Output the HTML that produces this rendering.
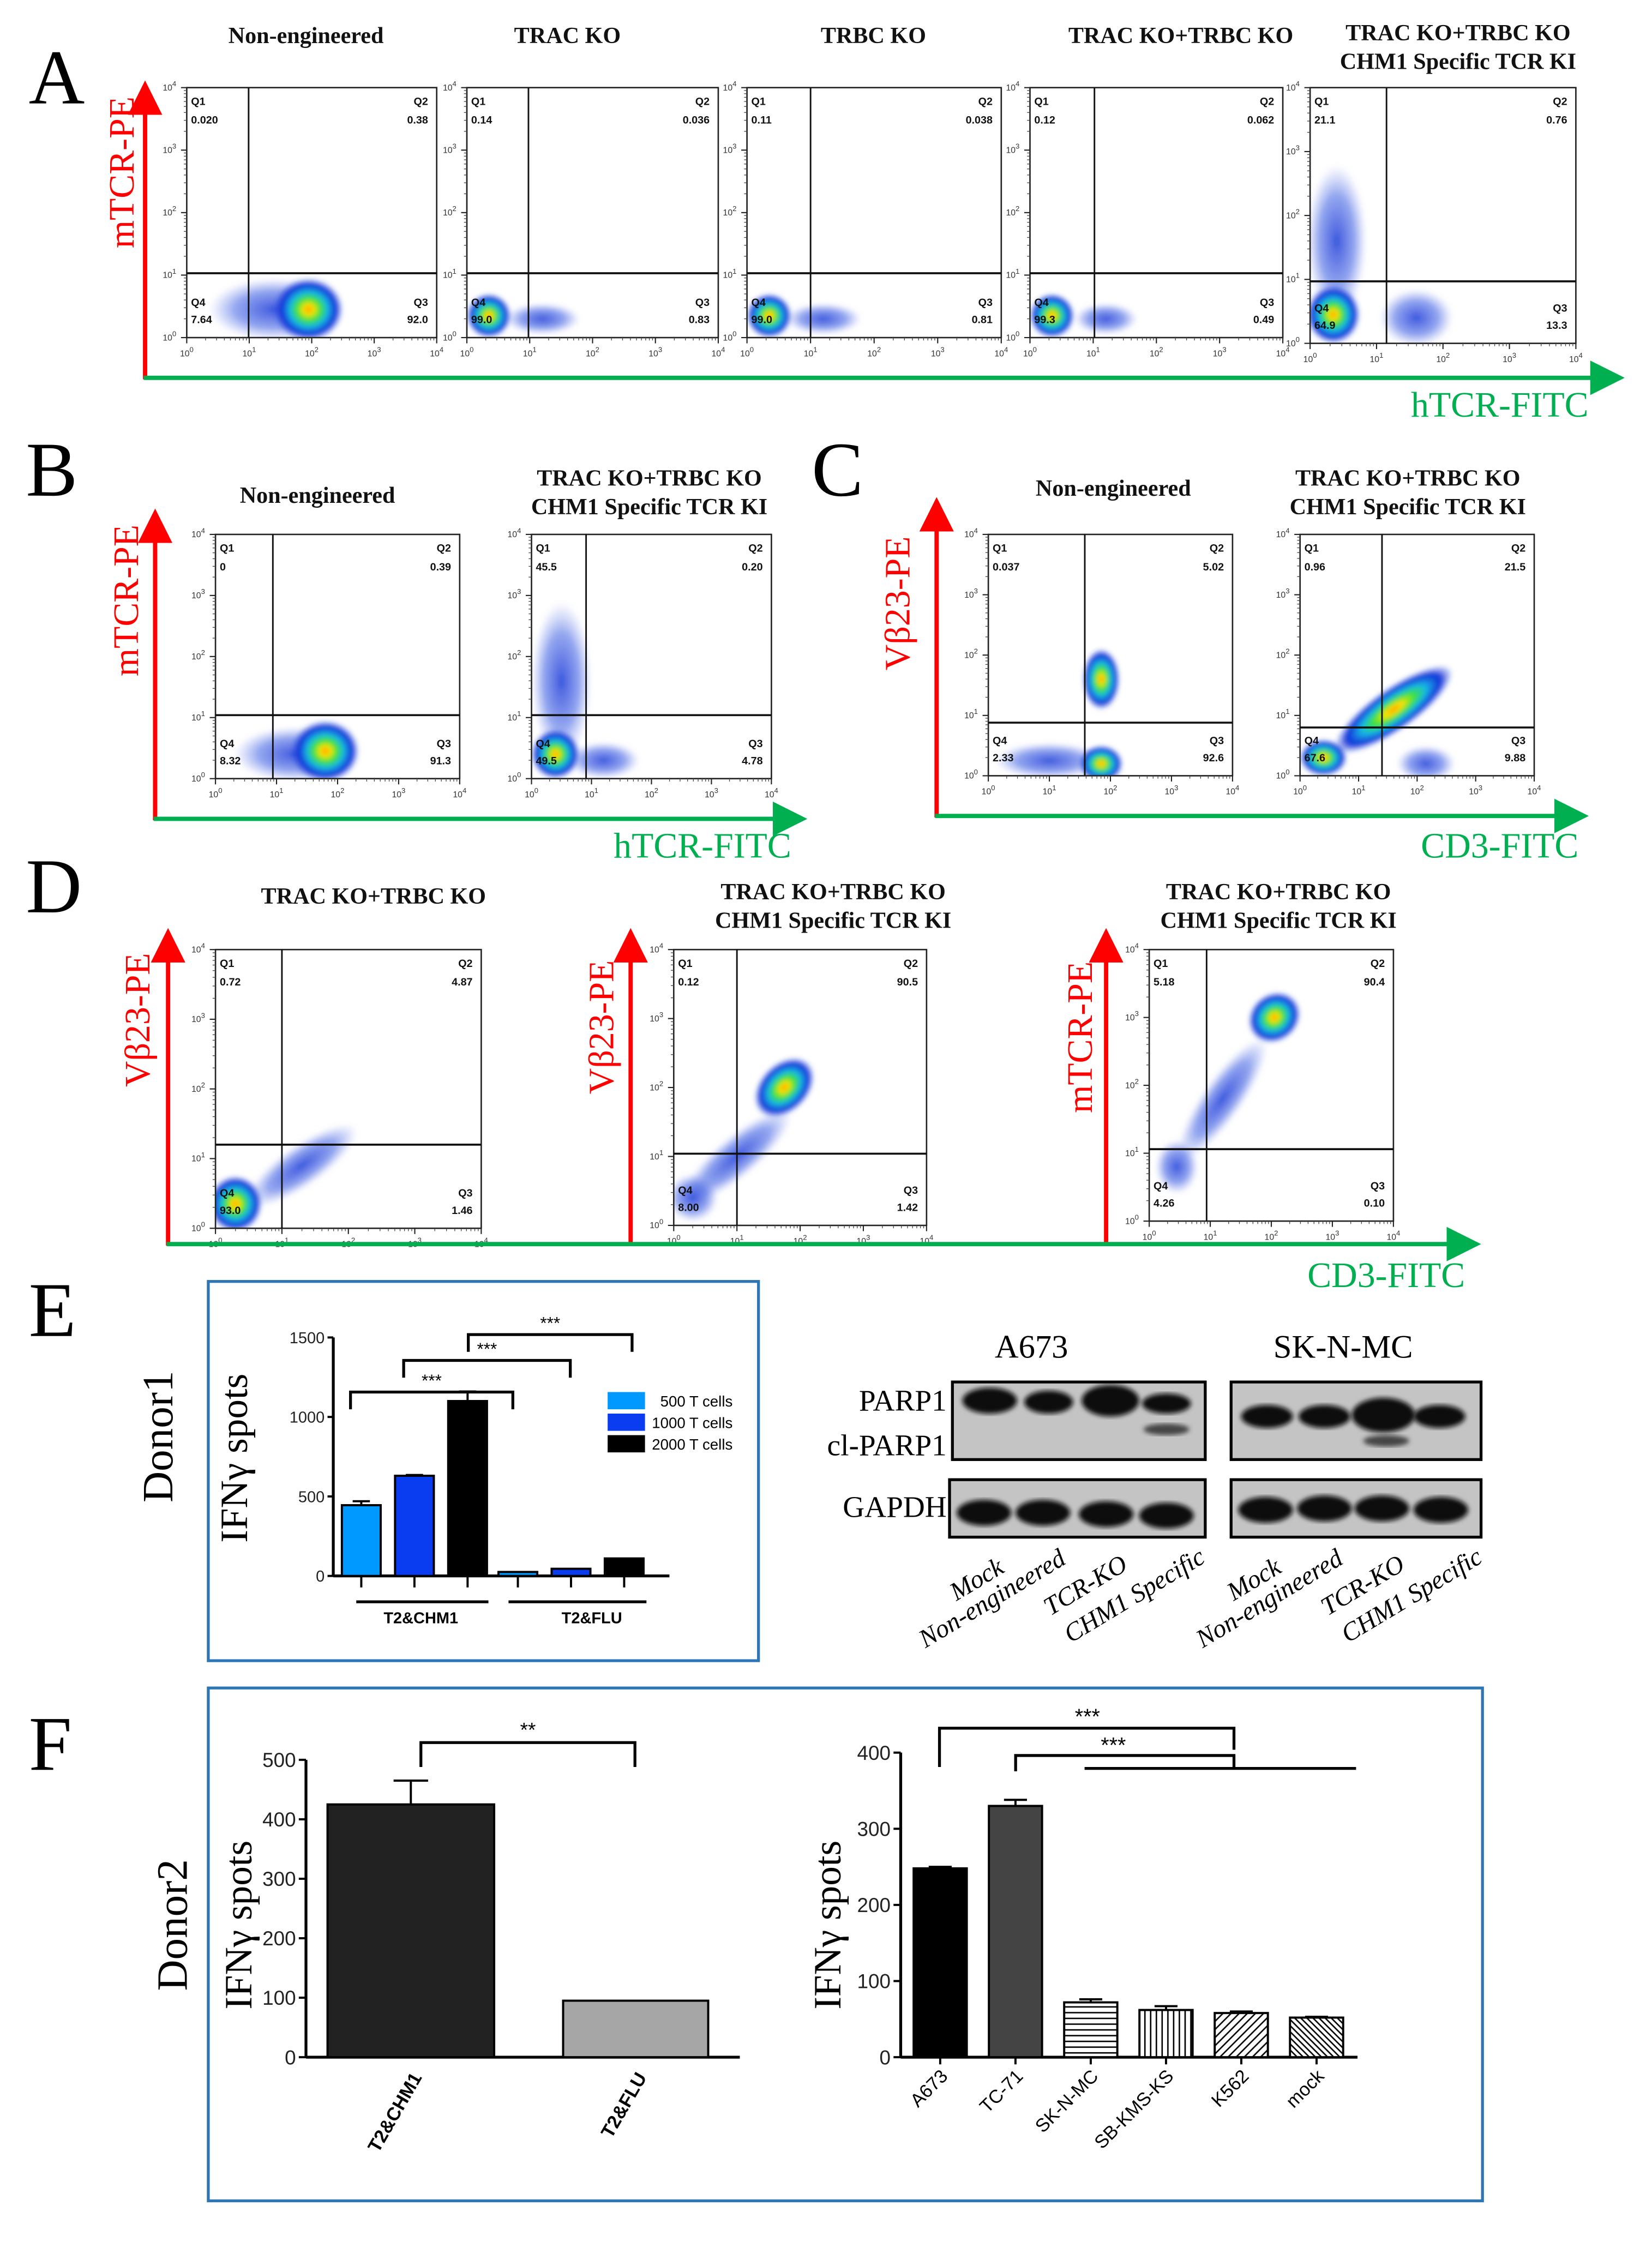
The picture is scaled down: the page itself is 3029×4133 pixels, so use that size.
<!DOCTYPE html>
<html><head><meta charset="utf-8">
<style>
html,body{margin:0;padding:0;background:#fff;}
svg{display:block;}
.serif{font-family:"Liberation Serif",serif;}
.sans{font-family:"Liberation Sans",sans-serif;}
</style></head>
<body>
<svg id="fig" xmlns="http://www.w3.org/2000/svg" width="3029" height="4133" viewBox="0 0 1150 1569" preserveAspectRatio="none">
<defs>
<radialGradient id="dens" cx="50%" cy="50%" r="50%">
<stop offset="0" stop-color="#ff8a00"/>
<stop offset="0.15" stop-color="#ffe400"/>
<stop offset="0.35" stop-color="#3ce23c"/>
<stop offset="0.55" stop-color="#16b9e6"/>
<stop offset="0.78" stop-color="#1030d8"/>
<stop offset="1" stop-color="#1030d8" stop-opacity="0"/>
</radialGradient>
<radialGradient id="sparse" cx="50%" cy="50%" r="50%">
<stop offset="0" stop-color="#1a3ad8" stop-opacity="0.85"/>
<stop offset="0.6" stop-color="#2a4ee0" stop-opacity="0.5"/>
<stop offset="1" stop-color="#6d80e8" stop-opacity="0"/>
</radialGradient>
<marker id="arR" markerWidth="8" markerHeight="8" refX="4" refY="4" orient="auto"><path d="M0,0 L8,4 L0,8 z" fill="#ff0000"/></marker>
<marker id="arG" markerWidth="8" markerHeight="8" refX="4" refY="4" orient="auto"><path d="M0,0 L8,4 L0,8 z" fill="#00b050"/></marker>
<pattern id="hH" width="4" height="4" patternUnits="userSpaceOnUse"><rect width="4" height="4" fill="#fff"/><line x1="0" y1="1" x2="4" y2="1" stroke="#000" stroke-width="1"/></pattern>
<pattern id="hV" width="4" height="4" patternUnits="userSpaceOnUse"><rect width="4" height="4" fill="#fff"/><line x1="1" y1="0" x2="1" y2="4" stroke="#000" stroke-width="1"/></pattern>
<pattern id="hD" width="4" height="4" patternUnits="userSpaceOnUse" patternTransform="rotate(45)"><rect width="4" height="4" fill="#fff"/><line x1="1" y1="0" x2="1" y2="4" stroke="#000" stroke-width="1"/></pattern>
<pattern id="hD2" width="3" height="3" patternUnits="userSpaceOnUse" patternTransform="rotate(-45)"><rect width="3" height="3" fill="#fff"/><line x1="1" y1="0" x2="1" y2="3" stroke="#000" stroke-width="1"/></pattern>
<filter id="blur"><feGaussianBlur stdDeviation="1.6"/></filter>
</defs>
<g id="root"></g>
</svg>
<script>
// ===== Flow cytometry data (log decades 0-4) =====
const flowTitles=[["Non-engineered"],["TRAC KO"],["TRBC KO"],["TRAC KO+TRBC KO"],["TRAC KO+TRBC KO","CHM1 Specific TCR KI"],
 ["Non-engineered"],["TRAC KO+TRBC KO","CHM1 Specific TCR KI"],["Non-engineered"],["TRAC KO+TRBC KO","CHM1 Specific TCR KI"],
 ["TRAC KO+TRBC KO"],["TRAC KO+TRBC KO","CHM1 Specific TCR KI"],["TRAC KO+TRBC KO","CHM1 Specific TCR KI"]];
const q1Values=["0.020","0.14","0.11","0.12","21.1","0","45.5","0.037","0.96","0.72","0.12","5.18"];
const q2Values=["0.38","0.036","0.038","0.062","0.76","0.39","0.20","5.02","21.5","4.87","90.5","90.4"];
const q3Values=["92.0","0.83","0.81","0.49","13.3","91.3","4.78","92.6","9.88","1.46","1.42","0.10"];
const q4Values=["7.64","99.0","99.0","99.3","64.9","8.32","49.5","2.33","67.6","93.0","8.00","4.26"];
const gateX=[0.99,0.98,1.0,1.02,1.15,0.94,0.91,1.58,1.4,1.0,1.0,0.94];
const gateY=[1.03,1.03,1.03,1.03,0.97,1.04,1.04,0.88,0.8,1.2,1.04,1.06];
// blobs: [plotIndex, cx, cy, rx, ry, rotation, type(1 dense / 0 sparse)]
const blobs=[
 [0,1.4,0.45,1.05,0.5,0,0],[0,1.95,0.45,0.55,0.5,0,1],
 [1,0.35,0.35,0.35,0.35,0,1],[1,1.2,0.3,0.6,0.25,0,0],
 [2,0.35,0.35,0.35,0.35,0,1],[2,1.2,0.3,0.6,0.25,0,0],
 [3,0.35,0.35,0.35,0.35,0,1],[3,1.2,0.3,0.5,0.25,0,0],
 [4,0.35,0.45,0.4,0.45,0,1],[4,0.4,1.6,0.45,1.2,0,0],[4,1.6,0.4,0.55,0.45,0,0],
 [5,1.8,0.45,0.55,0.5,0,1],[5,1.3,0.4,1.0,0.45,0,0],
 [6,0.4,0.4,0.4,0.4,0,1],[6,0.5,1.6,0.5,1.3,0,0],[6,1.2,0.3,0.6,0.3,0,0],
 [7,1.85,1.6,0.3,0.5,0,1],[7,1.85,0.2,0.35,0.3,0,1],[7,1.0,0.25,0.9,0.3,0,0],
 [8,0.4,0.3,0.4,0.3,0,1],[8,1.6,1.1,1.2,0.35,-35,1],[8,2.15,0.2,0.5,0.3,0,0],
 [9,0.3,0.35,0.4,0.4,0,1],[9,1.3,0.9,1.0,0.3,-35,0],
 [10,1.75,2.0,0.55,0.35,-45,1],[10,1.0,1.0,1.1,0.3,-40,0],[10,0.3,0.4,0.4,0.35,0,0],
 [11,2.05,3.0,0.45,0.35,-40,1],[11,1.2,1.8,1.2,0.3,-55,0],[11,0.45,0.8,0.35,0.4,0,0]];
// plot geometry (layout, not data): x0,y0,x1,y1
const plotBoxes=[[130,61,304,235],[325,61,500,235],[520,61,697,235],[717,61,893,235],[912,61,1097,239],
 [150,372,320,542],[370,372,537,542],[688,372,858,540],[905,372,1068,540],
 [150,661,335,855],[469,661,645,853],[800,661,970,850]];
const titlePos=[[213,30],[395,30],[608,30],[822,30],[1015,28],[221,350],[452,338],[775,345],[980,338],[260,629],[580,626],[890,626]];
const decadeLabels=["0","1","2","3","4"];

// ===== Bar chart E =====
const eGroups=["T2&CHM1","T2&FLU"];
const eSeries=["500 T cells","1000 T cells","2000 T cells"];
const eChm1=[445,630,1100];
const eChm1Err=[25,5,60];
const eFlu=[25,45,110];
const eTicks=[0,500,1000,1500];
// ===== Bar chart F left =====
const fLCats=["T2&CHM1","T2&FLU"];
const fLVals=[425,95];
const fLErr=[40,0];
const fLTicks=[0,100,200,300,400,500];
// ===== Bar chart F right =====
const fRCats=["A673","TC-71","SK-N-MC","SB-KMS-KS","K562","mock"];
const fRVals=[248,330,72,62,58,52];
const fRErr=[2,8,4,5,2,1];
const fRTicks=[0,100,200,300,400];

const NS="http://www.w3.org/2000/svg";
const root=document.getElementById('root');
function mk(tag,attrs,parent,text){const e=document.createElementNS(NS,tag);for(const k in attrs)e.setAttribute(k,attrs[k]);if(text!==undefined)e.textContent=text;(parent||root).appendChild(e);return e;}

// ---- flow plots
plotBoxes.forEach((b,i)=>{
 const g=mk('g',{});
 
 
 const [x0,y0,x1,y1]=b;const w=x1-x0,h=y1-y0;
 const sx=v=>x0+v/4*w, sy=v=>y1-v/4*h;
 const clip=mk('clipPath',{id:'c'+i},g);mk('rect',{x:x0,y:y0,width:w,height:h},clip);
 const dg=mk('g',{'clip-path':'url(#c'+i+')'},g);
 blobs.filter(bl=>bl[0]===i).sort((a,c)=>a[6]-c[6]).forEach(bl=>{
  const e=mk('ellipse',{cx:sx(bl[1]),cy:sy(bl[2]),rx:bl[3]/4*w,ry:bl[4]/4*h,fill:bl[6]?'url(#dens)':'url(#sparse)',transform:`rotate(${bl[5]} ${sx(bl[1])} ${sy(bl[2])})`,filter:'url(#blur)'},dg);
  
  
 });
 const fr=mk('rect',{x:x0,y:y0,width:w,height:h,fill:'none',stroke:'#222','stroke-width':1},g);
 
 
 mk('line',{x1:sx(gateX[i]),x2:sx(gateX[i]),y1:y0,y2:y1,stroke:'#111','stroke-width':1.1},g);
 mk('line',{x1:x0,x2:x1,y1:sy(gateY[i]),y2:sy(gateY[i]),stroke:'#111','stroke-width':1.4},g);
 const fs=7.5;
 const t=(x,y,s,a)=>mk('text',{x:x,y:y,'font-size':fs,'font-weight':'bold','text-anchor':a,class:'sans',fill:'#111'},g,s);
 t(x0+3,y0+12,'Q1','start');t(x0+3,y0+25,q1Values[i],'start');
 t(x1-6,y0+12,'Q2','end');t(x1-6,y0+25,q2Values[i],'end');
 t(x0+3,y1-22,'Q4','start');t(x0+3,y1-10,q4Values[i],'start');
 t(x1-6,y1-22,'Q3','end');t(x1-6,y1-10,q3Values[i],'end');
 for(let d=0;d<=4;d++){
  mk('line',{x1:sx(d),x2:sx(d),y1:y1,y2:y1+4,stroke:'#222','stroke-width':0.8},g);
  mk('line',{x1:x0-4,x2:x0,y1:sy(d),y2:sy(d),stroke:'#222','stroke-width':0.8},g);
  const tx=mk('text',{x:sx(d),y:y1+13,'font-size':6,'text-anchor':'middle',class:'sans',fill:'#333'},g,'10');
  mk('tspan',{dy:-3,'font-size':5},tx,decadeLabels[d]);
  const ty=mk('text',{x:x0-12,y:sy(d)+2,'font-size':6,'text-anchor':'middle',class:'sans',fill:'#333'},g,'10');
  mk('tspan',{dy:-3,'font-size':5},ty,decadeLabels[d]);
  if(d<4)for(let m=2;m<10;m++){const v=d+Math.log10(m);
   mk('line',{x1:sx(v),x2:sx(v),y1:y1,y2:y1+2,stroke:'#444','stroke-width':0.5},g);
   mk('line',{x1:x0-2,x2:x0,y1:sy(v),y2:sy(v),stroke:'#444','stroke-width':0.5},g);}
 }
 const tp=titlePos[i];
 flowTitles[i].forEach((s,k)=>{const tt=mk('text',{x:tp[0],y:tp[1]+k*20,'font-size':16,'font-weight':'bold','text-anchor':'middle',class:'serif',fill:'#111'},g,s);
  
  });
});

// ---- axis arrows & labels
function arrowV(x,y0,y1,name){const l=mk('line',{x1:x,x2:x,y1:y0,y2:y1+6,stroke:'#ff0000','stroke-width':3,'marker-end':'url(#arR)'});
 
 }
function arrowH(y,x0,x1,name){const l=mk('line',{x1:x0,x2:x1-6,y1:y,y2:y,stroke:'#00b050','stroke-width':3,'marker-end':'url(#arG)'});
 
 }
arrowV(101,264,62,'a-y-arrow');arrowH(263,100,1125,'a-x-arrow');
arrowV(108,571,360,'b-y-arrow');arrowH(570,107,556,'b-x-arrow');
arrowV(652,569,352,'c-y-arrow');arrowH(568,651,1100,'c-x-arrow');
arrowV(117,867,652,'d1-y-arrow');arrowV(439,867,652,'d2-y-arrow');arrowV(770,867,652,'d3-y-arrow');arrowH(866,116,1025,'d-x-arrow');
function vlab(x,y,s,name){const t=mk('text',{x:x,y:y,'font-size':25,'text-anchor':'middle',class:'serif',fill:'#ff0000',transform:`rotate(-90 ${x} ${y})`},root,s);
 
 }
function hlab(x,y,s,name){const t=mk('text',{x:x,y:y,'font-size':25,'text-anchor':'middle',class:'serif',fill:'#00b050'},root,s);
 
 }
vlab(93,120,'mTCR-PE','a-y-title');hlab(1044,290,'hTCR-FITC','a-x-title');
vlab(96,418,'mTCR-PE','b-y-title');hlab(489,597,'hTCR-FITC','b-x-title');
vlab(633,420,'Vβ23-PE','c-y-title');hlab(1044,597,'CD3-FITC','c-x-title');
vlab(104,710,'Vβ23-PE','d1-y-title');vlab(427,715,'Vβ23-PE','d2-y-title');vlab(760,722,'mTCR-PE','d3-y-title');hlab(965,896,'CD3-FITC','d-x-title');
[['A',20,72],['B',18,345],['C',565,345],['D',18,635],['E',20,930],['F',20,1232]].forEach(p=>{
 const t=mk('text',{x:p[1],y:p[2],'font-size':54,class:'serif',fill:'#000'},root,p[0]);
 
 });

// ---- Panel E boxes
const eb=mk('rect',{x:145,y:892,width:383,height:264,fill:'none',stroke:'#2e75b6','stroke-width':2});


const fb=mk('rect',{x:145,y:1175,width:887,height:357,fill:'none',stroke:'#2e75b6','stroke-width':2});


const d1=mk('text',{x:120,y:1000,'font-size':30,'text-anchor':'middle',class:'serif',transform:'rotate(-90 120 1000)'},root,'Donor1');


const d2=mk('text',{x:130,y:1340,'font-size':30,'text-anchor':'middle',class:'serif',transform:'rotate(-90 130 1340)'},root,'Donor2');



function bracket(g,xa,xb,y,drop,label,fs){mk('path',{d:`M${xa},${y+drop} V${y} H${xb} V${y+drop}`,fill:'none',stroke:'#000','stroke-width':2},g);
 mk('text',{x:(xa+xb)/2,y:y-4,'font-size':fs,'text-anchor':'middle',class:'sans'},g,label);}

// E bar chart
(function(){
 const g=mk('g',{});
 
 
 const ax=232,y0=1097,ytop=931,ymax=1500;
 const sy=v=>y0-v/ymax*(y0-ytop);
 mk('line',{x1:ax,x2:ax,y1:ytop,y2:y0,stroke:'#000','stroke-width':2},g);
 mk('line',{x1:ax,x2:466,y1:y0,y2:y0,stroke:'#000','stroke-width':2},g);
 eTicks.forEach(t=>{mk('line',{x1:ax-4,x2:ax,y1:sy(t),y2:sy(t),stroke:'#000','stroke-width':1.5},g);
  mk('text',{x:ax-6,y:sy(t)+4,'font-size':11,'text-anchor':'end',class:'sans',fill:'#222'},g,String(t));});
 const colors=['#0099ff','#0a3cf0','#000000'];
 const bw=27,step=37,start=238;
 const all=[eChm1,eFlu];
 all.forEach((arr,gi)=>{arr.forEach((v,si)=>{
  const x=start+(gi*3+si)*step - (gi? 2:0);
  const r=mk('rect',{x:x,y:sy(v),width:bw,height:y0-sy(v),fill:colors[si],stroke:'#000','stroke-width':1.5},g);
  
  
  mk('line',{x1:x+bw/2,x2:x+bw/2,y1:y0,y2:y0+8,stroke:'#000','stroke-width':1.5},g);
  if(gi===0){const e=eChm1Err[si];mk('line',{x1:x+bw/2,x2:x+bw/2,y1:sy(v),y2:sy(v+e),stroke:'#000','stroke-width':1.5},g);
   mk('line',{x1:x+bw/2-6,x2:x+bw/2+6,y1:sy(v+e),y2:sy(v+e),stroke:'#000','stroke-width':1.5},g);}
 });});
 mk('line',{x1:248,x2:340,y1:1115,y2:1115,stroke:'#000','stroke-width':2},g);
 mk('line',{x1:354,x2:450,y1:1115,y2:1115,stroke:'#000','stroke-width':2},g);
 mk('text',{x:293,y:1130,'font-size':11,'font-weight':'bold','text-anchor':'middle',class:'sans'},g,eGroups[0]);
 mk('text',{x:412,y:1130,'font-size':11,'font-weight':'bold','text-anchor':'middle',class:'sans'},g,eGroups[1]);
 bracket(g,244,357,969,12,'***',12);
 bracket(g,281,397,947,12,'***',12);
 bracket(g,326,440,929,12,'***',12);
 eSeries.forEach((s,i)=>{const ly=969+i*15;
  const lr=mk('rect',{x:423,y:ly,width:26,height:12,fill:colors[i]},g);
  
  
  mk('text',{x:510,y:ly+10,'font-size':10.5,'text-anchor':'end',class:'sans'},g,s);});
 mk('text',{x:172,y:1015,'font-size':27,'text-anchor':'middle',class:'serif',transform:'rotate(-90 172 1015)'},g,'IFNγ spots');
})();

// Western blots
(function(){
 const g=mk('g',{});
 
 
 mk('text',{x:718,y:945,'font-size':23,'text-anchor':'middle',class:'serif'},g,'A673');
 mk('text',{x:935,y:945,'font-size':23,'text-anchor':'middle',class:'serif'},g,'SK-N-MC');
 mk('text',{x:659,y:982,'font-size':21,'text-anchor':'end',class:'serif'},g,'PARP1');
 mk('text',{x:659,y:1013,'font-size':21,'text-anchor':'end',class:'serif'},g,'cl-PARP1');
 mk('text',{x:659,y:1056,'font-size':21,'text-anchor':'end',class:'serif'},g,'GAPDH');
 const boxes=[[663,962,176,54],[857,962,174,54],[661,1030,178,40],[857,1030,174,40]];
 boxes.forEach(b=>{mk('rect',{x:b[0],y:b[1],width:b[2],height:b[3],fill:'#c4c4c4',stroke:'#000','stroke-width':2},g);});
 const bandsP=[[689,975,19,9],[730,976,17,8],[773,975,20,11],[812,977,17,7],[882,986,18,8],[922,986,18,8],[963,985,22,12],[1002,986,18,8]];
 bandsP.forEach(b=>{const e=mk('ellipse',{cx:b[0],cy:b[1],rx:b[2],ry:b[3],fill:'#0a0a0a',filter:'url(#blur)'},g);
  
  });
 [[812,995,16,4],[965,1003,16,4]].forEach(b=>mk('ellipse',{cx:b[0],cy:b[1],rx:b[2],ry:b[3],fill:'#444',filter:'url(#blur)'},g));
 [[685,1053],[726,1053],[770,1054],[812,1055],[881,1051],[922,1050],[962,1050],[1003,1051]].forEach(b=>{
  const e=mk('ellipse',{cx:b[0],cy:b[1],rx:19,ry:9,fill:'#0a0a0a',filter:'url(#blur)'},g);
  
  });
 const lanes=['Mock','Non-engineered','TCR-KO','CHM1  Specific'];
 const lx=[[700,1094],[743,1088],[786,1092],[840,1087]];
 [0,1].forEach(k=>lanes.forEach((s,i)=>{const x=lx[i][0]+k*193,y=lx[i][1];
  mk('text',{x:x,y:y,'font-size':18,'font-style':'italic','text-anchor':'end',class:'serif',transform:`rotate(-31 ${x} ${y})`},g,s);}));
})();

// F left
(function(){
 const g=mk('g',{});
 
 
 const ax=213,y0=1432,ytop=1225,ymax=500;
 const sy=v=>y0-v/ymax*(y0-ytop);
 mk('line',{x1:ax,x2:ax,y1:ytop,y2:y0,stroke:'#000','stroke-width':2},g);
 mk('line',{x1:ax,x2:515,y1:y0,y2:y0,stroke:'#000','stroke-width':2},g);
 fLTicks.forEach(t=>{mk('line',{x1:ax-5,x2:ax,y1:sy(t),y2:sy(t),stroke:'#000','stroke-width':1.5},g);
  mk('text',{x:ax-7,y:sy(t)+5,'font-size':14,'text-anchor':'end',class:'sans',fill:'#222'},g,String(t));});
 const bx=[228,392],bw=[116,101],cols=['#222222','#a6a6a6'];
 fLVals.forEach((v,i)=>{const r=mk('rect',{x:bx[i],y:sy(v),width:bw[i],height:y0-sy(v),fill:cols[i],stroke:'#000','stroke-width':1.5},g);
  
  
  const cx=bx[i]+bw[i]/2;
  if(fLErr[i]>0){mk('line',{x1:cx,x2:cx,y1:sy(v),y2:sy(v+fLErr[i]),stroke:'#000','stroke-width':1.5},g);
   mk('line',{x1:cx-12,x2:cx+12,y1:sy(v+fLErr[i]),y2:sy(v+fLErr[i]),stroke:'#000','stroke-width':1.5},g);}
  mk('text',{x:cx+8,y:y0+14,'font-size':13,'font-weight':'bold','text-anchor':'end',class:'sans',transform:`rotate(-60 ${cx+8} ${y0+14})`},g,fLCats[i]);});
 bracket(g,293,442,1213,17,'**',14);
 mk('text',{x:175,y:1340,'font-size':27,'text-anchor':'middle',class:'serif',transform:'rotate(-90 175 1340)'},g,'IFNγ spots');
})();

// F right
(function(){
 const g=mk('g',{});
 
 
 const ax=627,y0=1432,ytop=1220,ymax=400;
 const sy=v=>y0-v/ymax*(y0-ytop);
 mk('line',{x1:ax,x2:ax,y1:ytop,y2:y0,stroke:'#000','stroke-width':2},g);
 mk('line',{x1:ax,x2:945,y1:y0,y2:y0,stroke:'#000','stroke-width':2},g);
 fRTicks.forEach(t=>{mk('line',{x1:ax-5,x2:ax,y1:sy(t),y2:sy(t),stroke:'#000','stroke-width':1.5},g);
  mk('text',{x:ax-7,y:sy(t)+5,'font-size':14,'text-anchor':'end',class:'sans',fill:'#222'},g,String(t));});
 const fills=['#000','#444','url(#hH)','url(#hV)','url(#hD)','url(#hD2)'];
 fRVals.forEach((v,i)=>{const x=636+i*52.4,w=37,cx=x+w/2;
  const r=mk('rect',{x:x,y:sy(v),width:w,height:y0-sy(v),fill:fills[i],stroke:'#000','stroke-width':1.5},g);
  
  
  mk('line',{x1:cx,x2:cx,y1:sy(v),y2:sy(v+fRErr[i]),stroke:'#000','stroke-width':1.5},g);
  mk('line',{x1:cx-8,x2:cx+8,y1:sy(v+fRErr[i]),y2:sy(v+fRErr[i]),stroke:'#000','stroke-width':1.5},g);
  mk('line',{x1:cx,x2:cx,y1:y0,y2:y0+5,stroke:'#000','stroke-width':1.5},g);
  mk('text',{x:cx+6,y:y0+14,'font-size':13,'text-anchor':'end',class:'sans',transform:`rotate(-45 ${cx+6} ${y0+14})`},g,fRCats[i]);});
 mk('path',{d:'M654,1230 V1203 H859 V1218',fill:'none',stroke:'#000','stroke-width':2},g);
 mk('path',{d:'M707,1233 V1222 H859 V1230',fill:'none',stroke:'#000','stroke-width':2},g);
 mk('line',{x1:755,x2:944,y1:1231,y2:1231,stroke:'#000','stroke-width':2},g);
 mk('text',{x:757,y:1200,'font-size':15,'text-anchor':'middle',class:'sans'},g,'***');
 mk('text',{x:775,y:1220,'font-size':15,'text-anchor':'middle',class:'sans'},g,'***');
 mk('text',{x:585,y:1340,'font-size':27,'text-anchor':'middle',class:'serif',transform:'rotate(-90 585 1340)'},g,'IFNγ spots');
})();
</script>
</body></html>
